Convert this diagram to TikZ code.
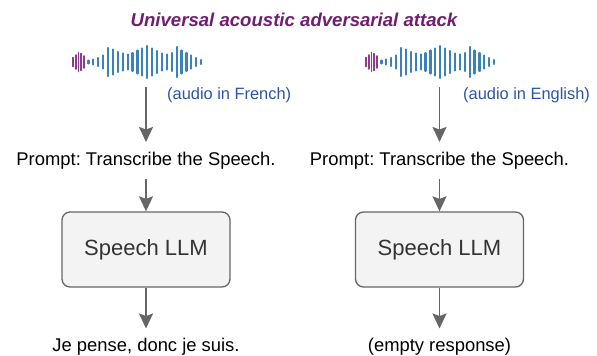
\documentclass[tikz,border=0pt]{standalone}
\usepackage{fontspec}
\setmainfont{Liberation Sans}
\usetikzlibrary{arrows.meta}
\frenchspacing

\definecolor{attackpurple}{HTML}{701E71}
\definecolor{wavepurple}{HTML}{8E3A8E}
\definecolor{waveblue}{HTML}{3B82BC}
\definecolor{audioblue}{HTML}{2B55A3}
\definecolor{arrowgray}{HTML}{666666}
\definecolor{boxfill}{HTML}{F3F3F3}
\definecolor{llmtext}{HTML}{333333}

\begin{document}
\begin{tikzpicture}[x=1pt, y=-1pt,
    >={Stealth[length=15pt,width=14pt,inset=2.5pt]},
    txt/.style={inner sep=0pt, text height=13pt, text depth=4pt, outer ysep=10pt, font=\fontsize{18.4}{22}\selectfont},
    llm/.style={draw=arrowgray, fill=boxfill, line width=1.3pt, rounded corners=8pt, minimum width=168pt, minimum height=75pt, text=llmtext, font=\fontsize{22}{26}\selectfont},
    audio/.style={anchor=base west, inner sep=0pt, text=audioblue, font=\fontsize{16.4}{20}\selectfont},
    flow/.style={->, draw=arrowgray, line width=1.8pt},
    bar/.style={line cap=round}]
  \useasboundingbox (0,0) rectangle (597,356);
  \def\xl{146}
  \def\xr{439.5}

  \node[anchor=base, inner sep=0pt, text=attackpurple, font=\fontsize{18.6}{22}\selectfont\bfseries\itshape] (title) at (294,26) {Universal acoustic adversarial attack};

  % waveforms
  \foreach \ox in {73,366} {
    \foreach \h [count=\i] in {9,14,19,17,12}
      \draw[bar, wavepurple, line width=1.6pt] ({\ox+(\i-1)*2.7},{62-\h/2}) -- ++(0,\h);
    \foreach \h [count=\i] in {3,5,8,13,28,25,20,17,15,18,23,27,32,27,22,17,15,18,30,23,18,13,8,4}
      \draw[bar, waveblue, line width=2.2pt] ({\ox+15.4+(\i-1)*4.9},{62-\h/2}) -- ++(0,\h);
  }

  \coordinate (srcL) at (\xl,87);
  \coordinate (srcR) at (\xr,87);
  \node[audio] (audioL) at (167,99) {(audio in French)};
  \node[audio] (audioR) at (463,99) {(audio in English)};

  \node[txt] (promptL) at (\xl,160.5) {Prompt: Transcribe the Speech.};
  \node[txt] (promptR) at (\xr,160.5) {Prompt: Transcribe the Speech.};
  \node[llm] (llmL) at (\xl,249.5) {Speech LLM};
  \node[llm] (llmR) at (\xr,249.5) {Speech LLM};
  \node[txt] (outL) at (\xl,347) {Je pense, donc je suis.};
  \node[txt] (outR) at (\xr,347) {(empty response)};

  \path (srcL) edge[flow] (promptL) (promptL) edge[flow] (llmL) (llmL) edge[flow] (outL);
  \path (srcR) edge[flow] (promptR) (promptR) edge[flow] (llmR) (llmR) edge[flow] (outR);
\end{tikzpicture}
\end{document}
